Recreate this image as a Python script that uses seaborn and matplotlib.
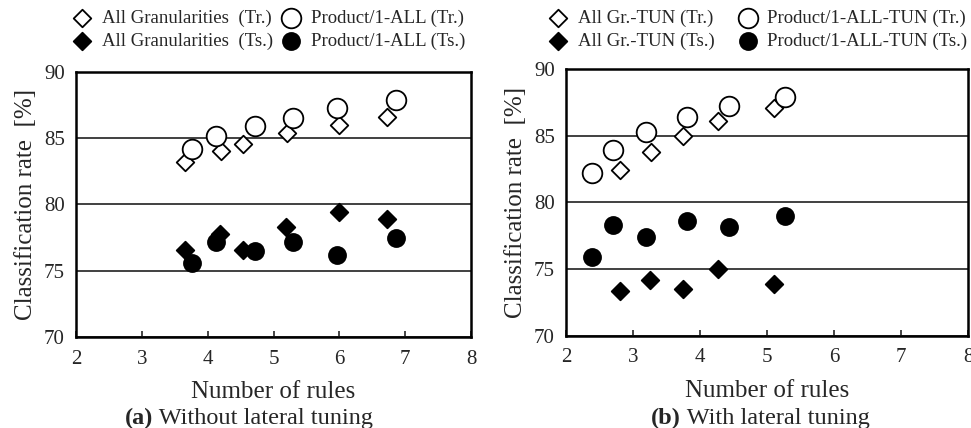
import numpy as np
import pandas as pd
import matplotlib
matplotlib.use("Agg")
import matplotlib.pyplot as plt
import seaborn as sns

# (a) Without lateral tuning
a_gran_tr_x = [3.66, 4.20, 4.53, 5.20, 6.00, 6.73]
a_gran_tr_y = [83.2, 84.0, 84.6, 85.4, 86.0, 86.6]
a_gran_ts_x = [3.66, 4.19, 4.53, 5.19, 5.99, 6.72]
a_gran_ts_y = [76.6, 77.8, 76.6, 78.3, 79.4, 78.9]
a_prod_tr_x = [3.76, 4.13, 4.72, 5.29, 5.97, 6.86]
a_prod_tr_y = [84.2, 85.2, 85.9, 86.5, 87.3, 87.9]
a_prod_ts_x = [3.76, 4.13, 4.72, 5.30, 5.97, 6.86]
a_prod_ts_y = [75.6, 77.2, 76.5, 77.2, 76.2, 77.5]

# (b) With lateral tuning
b_gran_tr_x = [2.80, 3.27, 3.74, 4.27, 5.10]
b_gran_tr_y = [82.4, 83.8, 85.0, 86.1, 87.1]
b_gran_ts_x = [2.80, 3.26, 3.74, 4.27, 5.10]
b_gran_ts_y = [73.4, 74.2, 73.5, 75.0, 73.9]
b_prod_tr_x = [2.39, 2.70, 3.20, 3.80, 4.43, 5.27]
b_prod_tr_y = [82.2, 83.9, 85.3, 86.4, 87.2, 87.9]
b_prod_ts_x = [2.39, 2.70, 3.20, 3.80, 4.43, 5.27]
b_prod_ts_y = [75.9, 78.3, 77.4, 78.6, 78.2, 79.0]

labels_a = ["All Granularities  (Tr.)", "All Granularities  (Ts.)",
            "Product/1-ALL (Tr.)", "Product/1-ALL (Ts.)"]
labels_b = ["All Gr.-TUN (Tr.)", "All Gr.-TUN (Ts.)",
            "Product/1-ALL-TUN (Tr.)", "Product/1-ALL-TUN (Ts.)"]

sns.set_style("white")
plt.rcParams["font.family"] = ["Liberation Serif", "DejaVu Serif"]

W, H = 971, 428
fig = plt.figure(figsize=(W / 100, H / 100), dpi=100)
ax_a = fig.add_axes([0.0783, 0.2126, 0.4068, 0.6192])
ax_b = fig.add_axes([0.5829, 0.2150, 0.4140, 0.6238])


def draw_panel(ax, series, labels):
    styles = [("D", "white", 80), ("D", "black", 80),
              ("o", "white", 200), ("o", "black", 150)]
    for (xs, ys), lab, (mk, fc, s) in zip(series, labels, styles):
        df = pd.DataFrame({"x": xs, "y": ys})
        sns.scatterplot(data=df, x="x", y="y", ax=ax, marker=mk, s=s,
                        facecolor=fc, edgecolor="black", linewidth=1.3,
                        zorder=3, label=lab, legend=False)
    ax.set_xlim(2, 8)
    ax.set_ylim(70, 90)
    ax.set_xticks(range(2, 9))
    ax.set_yticks([70, 75, 80, 85, 90])
    ax.yaxis.grid(True, color="#404040", linewidth=1.4)
    ax.xaxis.grid(False)
    for sp in ax.spines.values():
        sp.set_color("black")
        sp.set_linewidth(1.8)
    ax.tick_params(axis="x", direction="in", length=4, width=1.2,
                   labelsize=15, pad=9, top=False, bottom=True)
    ax.tick_params(axis="y", length=0, labelsize=15, pad=8)
    ax.set_xlabel("Number of rules", fontsize=18, labelpad=9)
    ax.set_ylabel("Classification rate  [%]", fontsize=18, labelpad=5)


draw_panel(ax_a, [(a_gran_tr_x, a_gran_tr_y), (a_gran_ts_x, a_gran_ts_y),
                  (a_prod_tr_x, a_prod_tr_y), (a_prod_ts_x, a_prod_ts_y)], labels_a)
draw_panel(ax_b, [(b_gran_tr_x, b_gran_tr_y), (b_gran_ts_x, b_gran_ts_y),
                  (b_prod_tr_x, b_prod_tr_y), (b_prod_ts_x, b_prod_ts_y)], labels_b)

for ax, x0, colsp in [(ax_a, 71, 0.35), (ax_b, 547, 1.15)]:
    h, l = ax.get_legend_handles_labels()
    fig.legend(h, l, ncol=2, loc="upper left",
               bbox_to_anchor=(x0 / W, 1 - 10 / H),
               frameon=False, fontsize=13.5, handletextpad=0.45,
               columnspacing=colsp, labelspacing=0.3, borderpad=0,
               borderaxespad=0, handlelength=1.2, markerscale=1.0)

# captions
for xpx, bold, rest in [(125, "(a)", " Without lateral tuning"),
                        (651, "(b)", " With lateral tuning")]:
    t = fig.text(xpx / W, 1 - 424 / H, bold, fontsize=17.5,
                 fontweight="bold", va="baseline")
    fig.canvas.draw()
    fig.text(t.get_window_extent().x1 / W, 1 - 424 / H, rest,
             fontsize=17.5, va="baseline")

fig.savefig("out.png", dpi=100)
